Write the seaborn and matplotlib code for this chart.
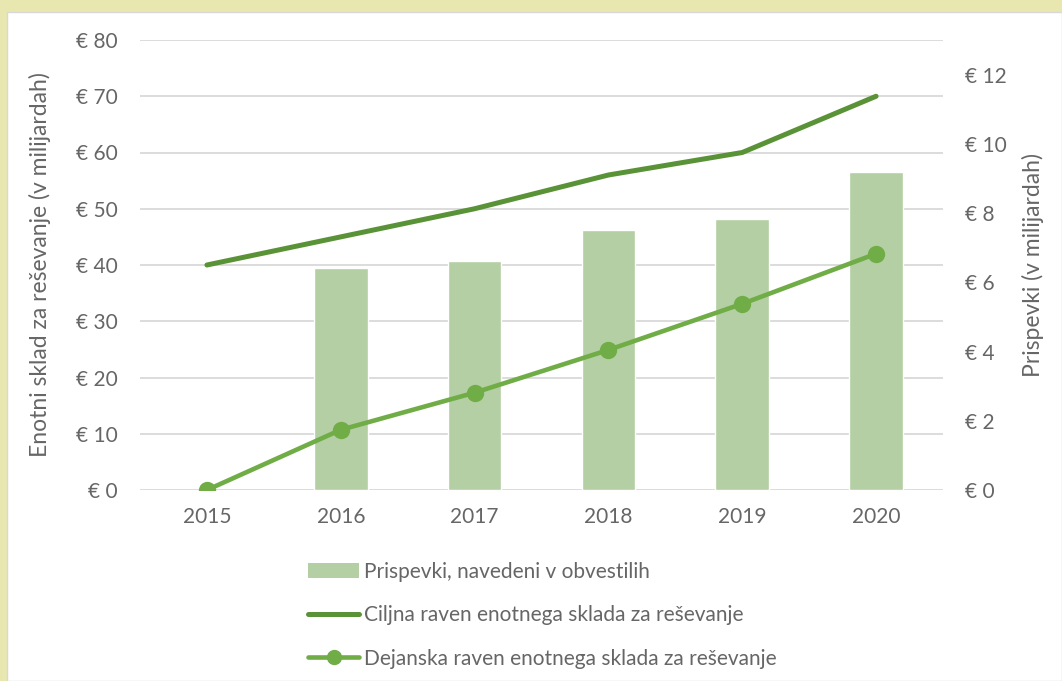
import numpy as np
import pandas as pd
import matplotlib
matplotlib.use("Agg")
import matplotlib.pyplot as plt
from matplotlib.patches import Rectangle
from matplotlib.lines import Line2D
import seaborn as sns

# ---- data ----
years = ["2015", "2016", "2017", "2018", "2019", "2020"]
contributions = [np.nan, 6.42, 6.62, 7.51, 7.83, 9.19]       # right axis (bn EUR)
target_level = [40, 45, 50, 56, 60, 70]                     # left axis (bn EUR)
actual_level = [0, 10.7, 17.3, 24.9, 33.1, 42.0]            # left axis (bn EUR)
left_ticks = [0, 10, 20, 30, 40, 50, 60, 70, 80]
right_ticks = [0, 2, 4, 6, 8, 10, 12]
left_labels = ["€ %d" % v for v in left_ticks]
right_labels = ["€ %d" % v for v in right_ticks]
label_bars = "Prispevki, navedeni v obvestilih"
label_target = "Ciljna raven enotnega sklada za reševanje"
label_actual = "Dejanska raven enotnega sklada za reševanje"
ylabel_left = "Enotni sklad za reševanje (v milijardah)"
ylabel_right = "Prispevki (v milijardah)"

df = pd.DataFrame({"year": years, "contrib": contributions,
                   "target": target_level, "actual": actual_level})

sns.set_theme(style="white")
plt.rcParams["font.family"] = ["Lato", "DejaVu Sans"]

TXT = "#666666"
C_BAR = "#B4CFA4"
C_TARGET = "#5A9337"
C_ACTUAL = "#70AD47"
GRID = "#D9D9D9"
FS = 15

W, H = 1062, 681
fig = plt.figure(figsize=(W / 100, H / 100), dpi=100)
fig.patch.set_facecolor("#E9E7B0")
fig.patches.append(Rectangle((7 / W, 0), 1 - 7 / W, (H - 12) / H, transform=fig.transFigure,
                             facecolor="white", edgecolor="#D8D8D8", linewidth=1.0, zorder=0))

l, r = 140 / W, 943 / W
b, t = 1 - 490 / H, 1 - 40 / H
ax = fig.add_axes([l, b, r - l, t - b])
ax.set_facecolor("none")
ax_bar = ax.twinx()
ax_line = ax.twinx()
ax.set_zorder(1)
ax_bar.set_zorder(2)
ax_line.set_zorder(3)
for a in (ax_bar, ax_line):
    a.patch.set_visible(False)

# bars (right axis)
sns.barplot(data=df, x="year", y="contrib", order=years, color=C_BAR, saturation=1,
            width=0.4, ax=ax_bar, label=label_bars)
# lines (left axis scale)
sns.pointplot(data=df, x="year", y="target", order=years, color=C_TARGET, markers="",
              linestyles="-", linewidth=3.6, ax=ax_line)
sns.pointplot(data=df, x="year", y="actual", order=years, color=C_ACTUAL, markers="o",
              linestyles="-", linewidth=3.3, markersize=10, ax=ax_line)

# scales
ax.set_ylim(0, 80)
ax_line.set_ylim(0, 80)
ax_bar.set_ylim(0, 13)
ax.set_xlim(-0.5, 5.5)
ax_bar.set_xlim(-0.5, 5.5)
ax_line.set_xlim(-0.5, 5.5)

ax.set_yticks(left_ticks)
ax.set_yticklabels(left_labels)
ax.yaxis.grid(True, color=GRID, linewidth=1.3)
ax.xaxis.grid(False)
ax_bar.set_yticks(right_ticks)
ax_bar.set_yticklabels(right_labels)
ax_line.set_yticks([])
ax_line.set_ylabel("")
ax_bar.set_xlabel("")
ax_line.set_xlabel("")
ax.set_xlabel("")

ax.set_xticks(range(len(years)))
ax.set_xticklabels(years)
for a in (ax_bar, ax_line):
    a.tick_params(axis="x", bottom=False, labelbottom=False)

ax.tick_params(axis="y", length=0, pad=16, labelsize=FS, labelcolor=TXT)
ax.tick_params(axis="x", length=0, pad=12, labelsize=FS, labelcolor=TXT)
ax_bar.tick_params(axis="y", length=0, pad=16, labelsize=FS, labelcolor=TXT)

for a in (ax, ax_bar, ax_line):
    for s in a.spines.values():
        s.set_visible(False)

ax.set_ylabel(ylabel_left, fontsize=16.5, color=TXT, labelpad=18)
ax_bar.set_ylabel(ylabel_right, fontsize=16.5, color=TXT, labelpad=11)

# legend
if ax_bar.get_legend() is not None:
    ax_bar.get_legend().remove()
handles = [
    Rectangle((0, 0), 1, 1, facecolor=C_BAR, edgecolor="none"),
    Line2D([], [], color=C_TARGET, linewidth=3.6, solid_capstyle="round"),
    Line2D([], [], color=C_ACTUAL, linewidth=3.3, marker="o", markersize=10, solid_capstyle="round"),
]
fig.legend(handles, [label_bars, label_target, label_actual], loc="upper left",
           bbox_to_anchor=(308 / W, 1 - 562 / H), frameon=False, fontsize=FS,
           labelcolor=TXT, handlelength=2.45, handletextpad=0.25, labelspacing=1.12,
           borderaxespad=0, borderpad=0)

fig.savefig("out.png", dpi=100, facecolor=fig.get_facecolor())
